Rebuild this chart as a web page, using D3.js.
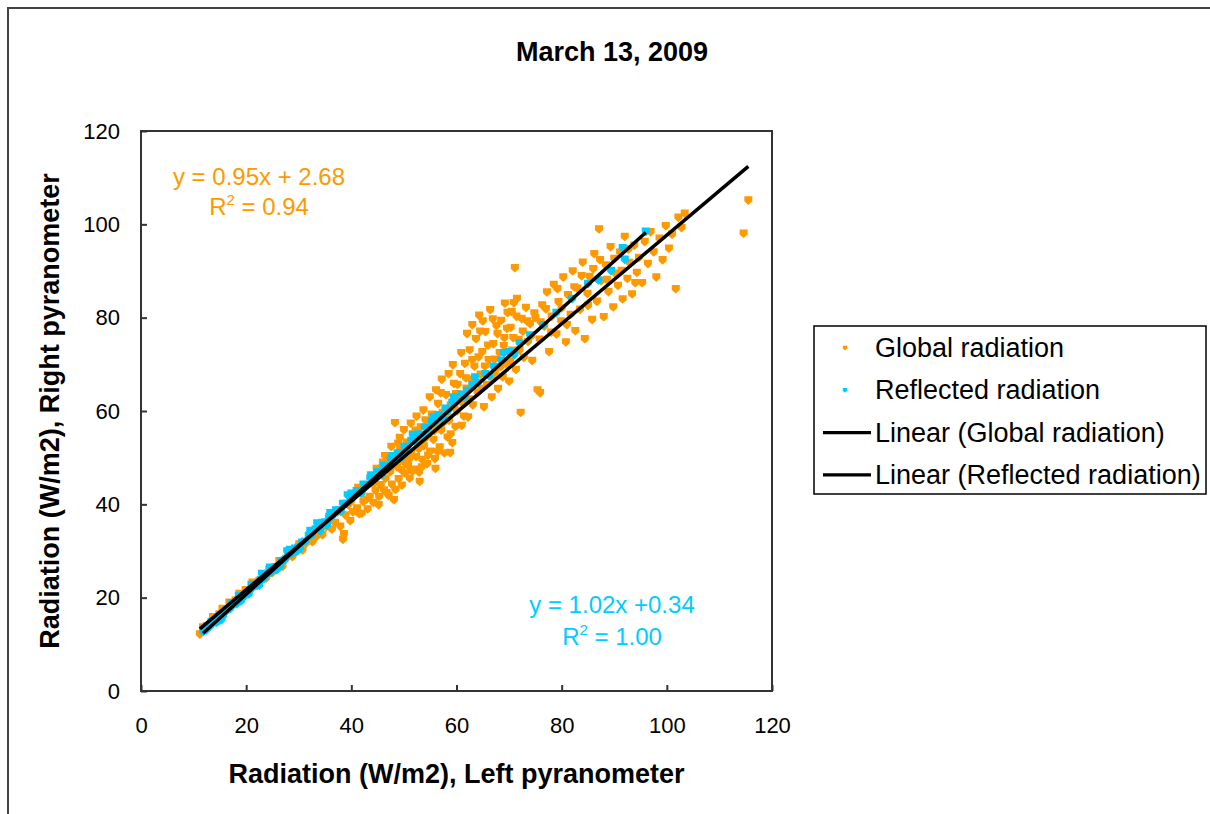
<!DOCTYPE html>
<html><head><meta charset="utf-8">
<script src="https://cdn.jsdelivr.net/npm/d3@7"></script>
<style>
html,body{margin:0;padding:0;background:#fff;}
svg{display:block;font-family:"Liberation Sans",Arial,sans-serif;}
</style></head>
<body>
<svg id="c" width="1210" height="814"></svg>
<script>
// ---------- data ----------
const chartTitle = "March 13, 2009";
const xAxisTitle = "Radiation (W/m2), Left pyranometer";
const yAxisTitle = "Radiation (W/m2), Right pyranometer";
const xTicks = [0, 20, 40, 60, 80, 100, 120];
const yTicks = [0, 20, 40, 60, 80, 100, 120];
const seriesNames = ["Global radiation", "Reflected radiation"];
const trendNames = ["Linear (Global radiation)", "Linear (Reflected radiation)"];
const trendSlope = [0.95, 1.02];
const trendIntercept = [2.68, 0.34];
const eqLabels = [["y = 0.95x + 2.68", "0.94"], ["y = 1.02x +0.34", "1.00"]];

const globalPts = [
[11.2,12.1],[11.8,13.6],[12.5,13.9],[13.1,14.1],[13.7,15.8],[14.2,15.5],[14.9,16.4],[15.5,17.6],[16.1,17.0],[16.8,18.9],
[17.4,18.6],[18.0,19.4],[18.7,20.8],[19.3,20.2],[19.9,21.6],[20.6,21.4],[21.2,23.2],[21.8,22.5],[22.5,23.6],[23.1,25.0],
[23.8,24.1],[24.4,25.9],[25.0,25.3],[25.7,26.4],[26.3,27.8],[26.9,26.6],[27.6,28.3],[28.2,29.7],[28.8,28.7],[29.5,29.9],
[30.1,31.4],[30.7,30.1],[31.4,31.6],[32.0,33.2],[32.6,31.9],[33.3,33.0],[33.9,34.9],[34.5,33.4],[35.2,35.1],
[35.8,36.8],[36.3,34.6],[36.9,36.0],[37.4,38.3],[37.9,35.2],[38.4,32.4],[38.6,33.6],[38.9,37.6],[39.4,39.8],[39.8,36.4],
[40.3,38.3],[40.7,41.9],[41.1,39.1],[41.5,37.9],[41.9,42.3],[42.3,40.5],[42.7,43.8],[43.1,38.9],[43.5,41.6],[43.9,44.6],
[44.2,40.3],[44.6,42.9],[45.0,46.3],
[40.0,40.6],[41.3,43.5],[42.0,38.0],[42.9,41.0],[43.7,46.2],[44.4,44.5],[45.2,39.8],[46.0,48.9],[46.7,42.4],[47.3,48.5],
[48.1,40.9],[48.9,53.0],[49.5,47.3],
[45.3,41.6],[45.6,44.1],[45.9,47.8],[46.2,43.0],[46.5,45.5],[46.8,49.1],[47.1,41.8],[47.4,46.9],[47.7,44.2],[48.0,50.2],
[48.3,57.4],[48.4,43.1],[48.7,47.9],[49.0,45.4],[49.3,51.6],[49.6,44.0],[49.9,49.1],[50.2,46.6],[50.5,53.2],[50.8,48.2],
[51.1,45.5],[51.4,51.0],[51.7,55.0],[52.0,47.4],[52.3,50.1],[52.6,53.4],[52.9,46.8],[53.2,56.5],[53.5,49.5],[53.8,52.4],
[54.1,58.0],[54.4,48.6],[54.7,55.1],[55.0,51.3],[55.3,59.2],[55.6,53.8],[55.9,49.7],[56.2,57.0],[56.5,61.5],[56.8,52.2],
[57.1,55.8],[57.4,59.6],[57.7,50.9],[58.0,63.4],[58.3,54.3],[58.6,57.9],[58.9,61.2],[59.2,53.1],[59.5,65.8],[59.8,56.6],
[52.4,58.8],[54.9,62.9],[57.2,66.7],[50.0,55.9],[47.6,52.3],[53.0,44.8],[56.0,47.6],[58.8,51.0],
[50.4,51.1],[51.0,49.6],[51.6,47.0],[52.2,55.8],[52.8,51.8],[53.4,47.9],[54.0,54.0],[54.6,50.4],[55.2,57.0],[55.8,55.7],
[56.4,51.2],[57.0,63.8],[57.6,57.5],[58.2,59.5],[58.9,55.0],[59.6,60.7],[59.9,63.6],
[44.8,47.6],[46.4,50.3],[49.2,54.2],[51.3,57.3],[53.7,60.1],[56.1,64.4],[58.5,67.9],
[60.1,59.9],[60.4,63.5],[60.7,67.9],[61.0,56.8],[61.3,61.4],[61.6,70.1],[61.9,64.8],[62.2,58.6],[62.5,73.0],[62.8,66.7],
[63.1,61.2],[63.4,69.5],[63.7,75.4],[64.0,63.9],[64.3,80.4],[64.6,67.8],[64.9,72.6],[65.2,60.8],[65.5,76.9],[65.8,65.6],
[66.1,70.9],[66.4,81.6],[66.7,62.9],[67.0,74.3],[67.3,68.1],[67.6,78.2],[67.9,64.7],[68.2,72.4],[68.5,79.3],[68.8,67.2],
[69.1,75.6],[69.4,70.1],[69.7,81.0],[70.0,66.3],[70.3,77.8],[70.6,72.9],[70.9,83.1],[71.1,90.6],[71.3,68.8],[71.5,84.0],
[71.8,75.2],[72.2,59.6],[72.4,79.7],[72.8,71.4],[73.2,82.1],[73.6,74.8],[74.0,78.6],[74.4,70.7],[74.8,80.9],[75.4,64.4],
[75.9,63.8],[62.0,76.5],[63.0,78.4],[65.0,79.2],[60.9,72.4],[59.3,69.8],
[60.2,65.6],[60.8,62.2],[61.4,58.8],[61.8,67.0],[62.4,62.5],[63.0,70.9],[63.6,66.0],[64.2,71.5],[64.8,64.8],[65.4,69.5],
[66.0,74.0],[66.6,67.2],[67.2,71.0],[67.8,76.5],[68.4,69.4],[69.0,73.9],[69.6,77.6],[70.2,70.6],[70.8,75.6],[71.4,80.2],
[72.0,73.0],[72.6,77.0],[73.4,79.2],[74.2,76.0],[75.0,79.9],[64.5,77.0],[66.9,79.6],[69.2,83.0],[70.5,81.2],
[75.8,75.3],[76.3,82.6],[76.7,78.1],[77.2,85.4],[77.6,72.6],[78.1,80.2],[78.5,87.0],[79.0,76.4],[79.4,83.3],[79.9,79.2],
[80.3,88.6],[80.8,74.7],[81.2,84.8],[81.7,80.6],[82.1,89.9],[82.6,77.1],[83.0,86.2],[83.5,81.7],[84.0,91.8],[84.4,75.4],
[84.9,85.1],[85.3,88.7],[85.8,79.5],[86.2,93.6],[86.7,83.4],[87.1,98.9],[87.5,87.8],[88.0,80.1],[88.4,91.2],[88.9,85.5],
[89.3,95.1],[89.8,82.2],[90.2,89.4],[90.7,86.8],[91.1,93.9],[91.6,83.9],[92.0,97.3],[92.5,88.3],[92.9,91.7],[93.4,85.0],
[93.8,95.4],[94.3,89.6],[94.7,92.8],
[76.0,79.0],[77.0,81.8],[78.0,76.8],[79.2,86.1],[80.0,82.0],[81.0,78.4],[82.4,86.5],[83.8,88.9],[85.0,82.5],[86.0,90.4],
[87.3,92.3],[88.6,88.1],[90.0,92.6],[91.4,90.0],[92.7,94.6],[94.0,87.4],
[95.3,87.4],[95.8,96.2],[96.4,91.5],[96.9,98.3],[97.5,94.0],[98.0,88.6],[98.6,96.9],[99.2,92.3],[99.8,99.6],[100.4,94.8],
[101.0,97.8],[101.7,86.1],[102.2,101.4],[102.8,99.2],[103.4,102.3],[114.6,98.0],[115.5,105.1]
];

const reflectedPts = [
[11.8,12.6],[12.4,13.0],[13.1,13.7],[13.7,14.5],[14.3,14.6],[15.0,15.9],[15.6,16.0],[16.3,17.2],[16.9,17.5],[17.6,18.4],
[18.2,18.6],[18.9,19.9],[19.5,20.0],[20.2,21.0],[20.8,21.6],[21.5,22.4],[22.1,22.6],[22.8,23.8],[23.4,24.0],[24.1,25.1],
[24.7,25.3],[25.4,26.4],[26.0,26.6],[26.7,27.8],[27.3,28.0],[28.0,29.2],[28.6,29.3],[29.3,30.5],[29.9,30.7],[30.6,31.8],
[31.2,32.0],[31.9,33.2],[32.5,33.4],[33.2,34.6],[33.8,34.7],[34.5,36.0],[35.1,36.1],[35.8,37.3],[36.4,37.4],[37.1,38.7],
[37.7,38.7],[38.4,40.1],[39.0,40.1],[39.7,41.4],[40.3,41.4],[41.0,42.8],[41.6,42.7],[42.3,44.2],[42.9,44.1],[43.6,45.5],
[44.2,45.4],[44.9,46.9],[45.5,46.8],[46.2,48.2],[46.8,48.1],[47.5,49.6],[48.1,49.4],[48.8,50.9],[49.4,50.8],[50.1,52.3],
[50.7,52.1],[51.4,53.6],[52.0,53.5],[52.7,55.0],[53.3,54.8],[54.0,56.4],[54.6,56.1],[55.3,57.7],[55.9,57.5],[56.6,59.1],
[57.2,58.8],[57.9,60.5],[58.5,60.1],[59.2,61.8],[60.0,62.0],[61.0,63.5],[62.0,64.3],[63.0,65.6],[64.0,66.0],[65.5,67.9],
[67.0,69.5],[68.5,70.8],[70.0,72.6],[72.0,74.5],[74.0,76.2],[76.5,78.4],[79.0,81.0],[82.0,84.0],[85.0,87.2],[87.0,88.0],
[89.4,90.0],[92.0,92.4],[91.6,94.9],[96.0,98.4],
[13.4,14.8],[15.3,15.2],[17.2,18.8],[19.0,19.2],[21.0,22.7],[22.5,22.6],[24.5,26.4],[26.4,26.5],[28.3,30.2],[30.2,30.4],
[32.2,34.3],[34.1,34.2],[36.0,38.1],[38.0,38.4],[40.0,42.3],[41.9,42.3],[43.9,46.1],[45.8,46.3],[47.8,50.3],[49.7,50.2],
[51.7,54.8],[53.6,54.3],[55.6,58.6],[57.5,58.0],[59.5,62.9],[61.5,62.9],[63.5,67.2],[66.2,67.5],[69.0,72.4],[71.0,72.0],
[14.8,14.9],[18.6,20.3],[20.5,20.7],[23.0,25.1],[25.8,25.9],[27.8,29.9],[29.6,29.8],[33.5,35.9],[35.4,35.5],[39.3,41.9]
];

const colors = ["#FF9900", "#00CCFF"];
const allSeries = [globalPts, reflectedPts];

// ---------- drawing ----------
const svg = d3.select("#c");
const FONT = '"Liberation Sans", Arial, sans-serif';

// outer chart border
svg.append("rect").attr("x", 8).attr("y", 8).attr("width", 1220).attr("height", 830)
  .attr("fill", "#fff").attr("stroke", "#444").attr("stroke-width", 2);

const x = d3.scaleLinear().domain([0, 120]).range([141, 772]);
const y = d3.scaleLinear().domain([0, 120]).range([691, 131]);

// title
svg.append("text").attr("x", 612).attr("y", 61).attr("text-anchor", "middle")
  .attr("font-size", 27).attr("font-weight", "bold").attr("fill", "#000").text(chartTitle);

// axes (ticks inside, labels outside)
const gx = svg.append("g").attr("transform", `translate(0,${y(0)})`)
  .call(d3.axisBottom(x).tickValues(xTicks).tickSizeInner(-6).tickSizeOuter(0).tickPadding(26).tickFormat(d3.format("d")));
const gy = svg.append("g").attr("transform", `translate(${x(0)},0)`)
  .call(d3.axisLeft(y).tickValues(yTicks).tickSizeInner(-6).tickSizeOuter(0).tickPadding(21).tickFormat(d3.format("d")));
[gx, gy].forEach(g => {
  g.select(".domain").remove();
  g.selectAll(".tick line").attr("stroke", "#333").attr("stroke-width", 2);
  g.selectAll(".tick text").attr("font-size", 22).attr("font-family", FONT).attr("fill", "#000");
});

// plot frame
svg.append("rect").attr("x", x(0)).attr("y", y(120)).attr("width", x(120) - x(0)).attr("height", y(0) - y(120))
  .attr("fill", "none").attr("stroke", "#333").attr("stroke-width", 2);

// axis titles
svg.append("text").attr("x", (x(0) + x(120)) / 2).attr("y", 783).attr("text-anchor", "middle")
  .attr("font-size", 27).attr("font-weight", "bold").text(xAxisTitle);
svg.append("text").attr("transform", `translate(59,${(y(0) + y(120)) / 2}) rotate(-90)`).attr("text-anchor", "middle")
  .attr("font-size", 27).attr("font-weight", "bold").text(yAxisTitle);

// marker shape
const markerPath = "M-4,-4.2 L4,-4.2 L4,0.8 L0,4.4 L-4,0.8 Z";

allSeries.forEach((pts, i) => {
  svg.append("g").selectAll("path").data(pts).join("path")
    .attr("d", markerPath)
    .attr("transform", d => `translate(${x(d[0])},${y(d[1])})`)
    .attr("fill", colors[i]);
});

// trend lines
allSeries.forEach((pts, i) => {
  const ext = d3.extent(pts, d => d[0]);
  const lineData = ext.map(v => [v, trendSlope[i] * v + trendIntercept[i]]);
  svg.append("path").datum(lineData)
    .attr("d", d3.line().x(d => x(d[0])).y(d => y(d[1])))
    .attr("stroke", "#000").attr("stroke-width", 3.5).attr("fill", "none");
});

// equation labels
const eqPos = [[259, 185, 215], [612, 613, 645]];
eqLabels.forEach((lab, i) => {
  const [cx, y1, y2] = eqPos[i];
  svg.append("text").attr("x", cx).attr("y", y1).attr("text-anchor", "middle")
    .attr("font-size", 24).attr("fill", colors[i]).text(lab[0]);
  const t = svg.append("text").attr("x", cx).attr("y", y2).attr("text-anchor", "middle")
    .attr("font-size", 24).attr("fill", colors[i]);
  t.append("tspan").text("R");
  t.append("tspan").attr("font-size", 15).attr("dy", -10).text("2");
  t.append("tspan").attr("dy", 10).text(" = " + lab[1]);
});

// legend
const lg = svg.append("g");
lg.append("rect").attr("x", 814).attr("y", 326).attr("width", 392).attr("height", 168)
  .attr("fill", "#fff").attr("stroke", "#000").attr("stroke-width", 1.5);
const legendRows = [
  {type: "marker", label: seriesNames[0], color: colors[0]},
  {type: "marker", label: seriesNames[1], color: colors[1]},
  {type: "line", label: trendNames[0]},
  {type: "line", label: trendNames[1]}
];
legendRows.forEach((r, i) => {
  const cy = 348 + i * 42.3;
  if (r.type === "marker") {
    lg.append("path").attr("d", markerPath).attr("transform", `translate(845,${cy}) scale(0.55)`).attr("fill", r.color);
  } else {
    lg.append("line").attr("x1", 823).attr("x2", 871).attr("y1", cy).attr("y2", cy)
      .attr("stroke", "#000").attr("stroke-width", 3.2);
  }
  lg.append("text").attr("x", 875).attr("y", cy + 9).attr("font-size", 27).attr("fill", "#000").text(r.label);
});
</script>
</body></html>
